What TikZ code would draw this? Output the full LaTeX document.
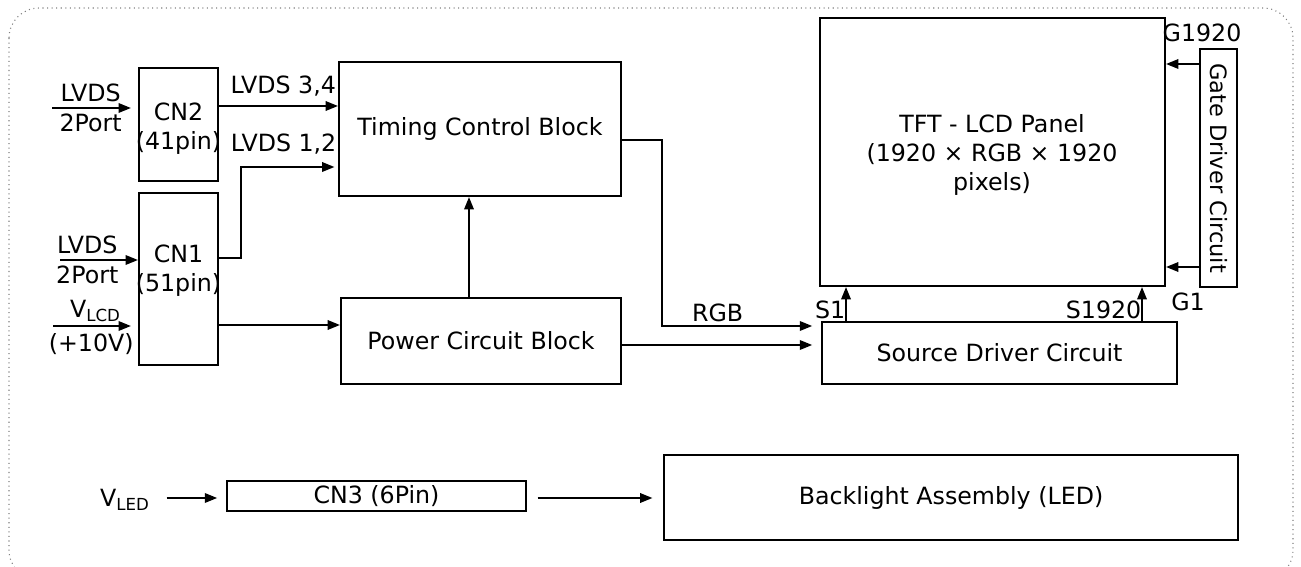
\documentclass[tikz,border=0pt]{standalone}
\usepackage{fontspec}
\setmainfont{DejaVu Sans}
\usetikzlibrary{arrows.meta}
\tikzset{
	blk/.style={draw, line width=1.3pt, inner sep=0pt, align=center},
	arr/.style={-{Triangle[length=7pt,width=5.5pt]}, line width=0.8pt},
	lbl/.style={inner sep=1pt}
}
\begin{document}
\begin{tikzpicture}[x=0.02cm, y=-0.02cm, font=\fontsize{13.5}{16.5}\selectfont]
	\useasboundingbox (0,0) rectangle (1301,567);
	%frame
	\draw[gray, dotted, line width=0.6pt, rounded corners=0.6cm] (9,8) rectangle (1293,580);
	%blocks
	\node[blk, minimum width=1.58cm, minimum height=2.26cm] (cn2) at (178.5,124.5) {};
	\node[align=center] (cn2txt) at (178.5,129) {CN2\\(41pin)};
	\node[blk, minimum width=1.58cm, minimum height=3.44cm] (cn1) at (178.5,279) {};
	\node[align=center] (cn1txt) at (178.5,271) {CN1\\(51pin)};
	\node[blk, minimum width=5.64cm, minimum height=2.68cm] (timing) at (480,129) {Timing Control Block};
	\node[blk, minimum width=5.6cm, minimum height=1.72cm] (power) at (481,341) {Power Circuit Block};
	\node[blk, minimum width=6.9cm, minimum height=5.36cm] (panel) at (992.5,152) {};
	\node[align=center] (paneltxt) at (992,155) {TFT - LCD Panel\\(1920 × RGB × 1920\\pixels)};
	\node[blk, minimum width=0.74cm, minimum height=4.76cm] (gate) at (1218.5,168) {};
	\node[rotate=-90, font=\fontsize{12.8}{15}\selectfont] (gatetxt) at (gate.center) {Gate Driver Circuit};
	\node[blk, minimum width=7.1cm, minimum height=1.24cm] (source) at (999.5,353) {Source Driver Circuit};
	\node[blk, minimum width=5.98cm, minimum height=0.6cm] (cn3) at (376.5,496) {CN3 (6Pin)};
	\node[blk, minimum width=11.48cm, minimum height=1.7cm] (backlight) at (951,497.5) {Backlight Assembly (LED)};
	%inputs
	\coordinate (in2) at (52,108);
	\coordinate (in1) at (60,260);
	\coordinate (inv) at (53,326);
	\node (vled) at (125,500) {V\textsubscript{LED}};
	\draw[arr, shorten >=4pt] (in2) -- (in2 -| cn2.west) node[pos=0.45, above=2pt, lbl] {LVDS} node[pos=0.45, below=2pt, lbl] {2Port};
	\draw[arr] (in1) -- (in1 -| cn1.west) node[pos=0.35, above=2pt, lbl] {LVDS} node[pos=0.35, below=2pt, lbl] {2Port};
	\draw[arr, shorten >=4pt] (inv) -- (inv -| cn1.west) node[pos=0.5, above=1pt, lbl] {V\textsubscript{LCD}} node[pos=0.45, below=3pt, lbl] {(+10V)};
	\draw[arr, shorten <=6pt, shorten >=5pt] (vled.east |- 0,498) -- (cn3.west |- 0,498);
	%connectors
	\draw[arr] (cn2.east |- 0,106) -- (timing.west |- 0,106) node[pos=0.54, above=4pt, lbl] {LVDS 3,4};
	\draw[arr, shorten >=2pt] (cn1.east |- 0,258) -- (241,258) |- (timing.west |- 0,167) node[pos=0.72, above=6pt, lbl] {LVDS 1,2};
	\draw[arr] (cn1.east |- 0,325) -- (power.west |- 0,325);
	\draw[arr] (power.north -| 469,0) -- (timing.south -| 469,0);
	\draw[arr, shorten >=5pt] (timing.east |- 0,140) -- (662,140) |- (source.west |- 0,326) node[pos=0.675, above=1pt, lbl] {RGB};
	\draw[arr, shorten >=5pt] (power.east |- 0,345) -- (source.west |- 0,345);
	\draw[arr] (source.north -| 846,0) -- (panel.south -| 846,0) node[pos=0.05, above left, inner sep=0pt] {S1};
	\draw[arr] (source.north -| 1142,0) -- (panel.south -| 1142,0) node[pos=0.05, above left, inner sep=0pt] {S1920};
	\draw[arr] (gate.west |- 0,64) -- (panel.east |- 0,64);
	\draw[arr] (gate.west |- 0,267) -- (panel.east |- 0,267);
	\node (g1920) at (1202,33) {G1920};
	\node (g1) at (1188,302) {G1};
	\draw[arr, shorten <=6pt, shorten >=6pt] (cn3.east |- 0,498) -- (backlight.west |- 0,498);
\end{tikzpicture}
\end{document}
